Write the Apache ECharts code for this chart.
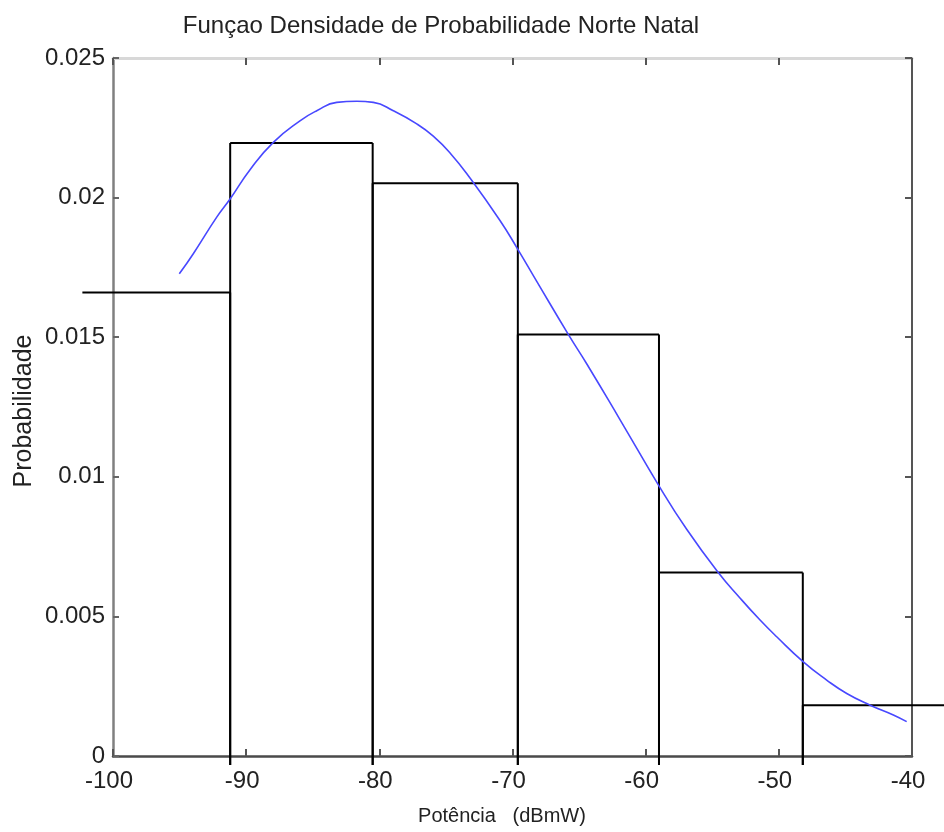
<!DOCTYPE html>
<html>
<head>
<meta charset="utf-8">
<script src="https://cdn.jsdelivr.net/npm/echarts@6/dist/echarts.min.js"></script>
<style>
html,body{margin:0;padding:0;background:#fff;}
#chart{width:944px;height:832px;}
</style>
</head>
<body>
<div id="chart"></div>
<script>
// ---- data ----
const titleText = 'Funçao Densidade de Probabilidade Norte Natal';
const xAxisName = 'Potência   (dBmW)';
const yAxisName = 'Probabilidade';

// histogram bin edges (dBmW) and densities
const binLeft  = [-102.3, -91.2, -80.5, -69.6, -59.0, -48.2];
const binRight = [-91.2, -80.5, -69.6, -59.0, -48.2, -37.5];
const binDensity = [0.0166, 0.02196, 0.02051, 0.0151, 0.00657, 0.00182];

// fitted density curve
const curveX = [-95.02, -93.97, -92.21, -91.21, -89.71, -87.96, -85.96, -84.70, -83.20, -81.70,
                -80.45, -78.95, -77.19, -75.95, -74.69, -73.19, -70.94, -69.69, -68.18,
                -65.81, -64.43, -61.93, -58.98, -56.92, -54.55, -52.92, -51.41,
                -50.16, -48.16, -46.41, -44.90, -43.14, -41.40, -40.40];
const curveY = [0.01727, 0.01799, 0.01930, 0.01995, 0.02100, 0.02198, 0.02275, 0.02311, 0.02341, 0.02345,
                0.02341, 0.02311, 0.02264, 0.02220, 0.02160, 0.02070, 0.01918, 0.01822, 0.01700,
                0.01510, 0.01405, 0.01205, 0.00966, 0.00812, 0.00657, 0.00566, 0.00487,
                0.00427, 0.00337, 0.00272, 0.00224, 0.00182, 0.00147, 0.00123];

const xMin = -100, xMax = -40, xStep = 10;
const yMin = 0, yMax = 0.025, yStep = 0.005;

// ---- chart ----
const font = "'Liberation Sans', Arial, Helvetica, sans-serif";

const chart = echarts.init(document.getElementById('chart'), null, {renderer: 'canvas'});

const barData = binLeft.map((l, i) => [l, binRight[i], binDensity[i]]);
const curveData = curveX.map((x, i) => [x, curveY[i]]);

const option = {
  animation: false,
  backgroundColor: '#ffffff',
  grid: {left: 113, right: 32, top: 58, bottom: 76, containLabel: false},
  graphic: [
    {type: 'text', x: 441, y: 14, z: 100,
     style: {text: titleText, fontSize: 24, fontFamily: font, fill: '#222', align: 'center', verticalAlign: 'top'}},
    {type: 'text', x: 502, y: 806, z: 100,
     style: {text: xAxisName, fontSize: 20, fontFamily: font, fill: '#222', align: 'center', verticalAlign: 'top'}},
    {type: 'text', x: 24, y: 411, rotation: Math.PI / 2, z: 100,
     style: {text: yAxisName, fontSize: 25, fontFamily: font, fill: '#222', align: 'center', verticalAlign: 'middle'}}
  ],
  xAxis: [
    {type: 'value', min: xMin, max: xMax, interval: xStep, position: 'bottom',
     axisLine: {onZero: false, lineStyle: {color: '#4a4a4a', width: 2.5}},
     axisTick: {inside: true, length: 7, lineStyle: {color: '#555', width: 2}},
     axisLabel: {margin: 13, fontSize: 24, fontFamily: font, color: '#222', padding: [0, 8, 0, 0]},
     splitLine: {show: false}},
    {type: 'value', min: xMin, max: xMax, interval: xStep, position: 'top',
     axisLine: {onZero: false, lineStyle: {color: '#d8d8d8', width: 3}},
     axisTick: {inside: true, length: 7, lineStyle: {color: '#555', width: 2}},
     axisLabel: {show: false}, splitLine: {show: false}}
  ],
  yAxis: [
    {type: 'value', min: yMin, max: yMax, interval: yStep, position: 'left',
     axisLine: {onZero: false, lineStyle: {color: '#808080', width: 2.5}},
     axisTick: {inside: true, length: 6, lineStyle: {color: '#666', width: 2}},
     axisLabel: {margin: 8, fontSize: 24, fontFamily: font, color: '#222'},
     splitLine: {show: false}},
    {type: 'value', min: yMin, max: yMax, interval: yStep, position: 'right',
     axisLine: {onZero: false, lineStyle: {color: '#555', width: 2}},
     axisTick: {inside: true, length: 7, lineStyle: {color: '#555', width: 2}},
     axisLabel: {show: false}, splitLine: {show: false}}
  ],
  series: [
    {
      type: 'custom', xAxisIndex: 0, yAxisIndex: 0, clip: false, z: 2,
      encode: {x: [0, 1], y: 2},
      data: barData,
      renderItem: function (params, api) {
        const l = api.value(0), r = api.value(1), h = api.value(2);
        const tl = api.coord([l, h]), tr = api.coord([r, h]);
        const bl = api.coord([l, 0]), br = api.coord([r, 0]);
        const ext = 9;
        const st = {stroke: '#000', lineWidth: 2};
        const children = [{type: 'line', shape: {x1: tl[0], y1: tl[1], x2: tr[0], y2: tr[1]}, style: st}];
        if (l >= xMin) children.push({type: 'line', shape: {x1: tl[0], y1: tl[1], x2: bl[0], y2: bl[1] + ext}, style: st});
        if (r <= xMax) children.push({type: 'line', shape: {x1: tr[0], y1: tr[1], x2: br[0], y2: br[1] + ext}, style: st});
        return {type: 'group', children: children};
      }
    },
    {
      type: 'line', xAxisIndex: 0, yAxisIndex: 0, z: 3,
      data: curveData, smooth: 0.5, showSymbol: false, symbol: 'none',
      lineStyle: {color: '#4848ff', width: 1.6}
    }
  ]
};
chart.setOption(option);
</script>
</body>
</html>
